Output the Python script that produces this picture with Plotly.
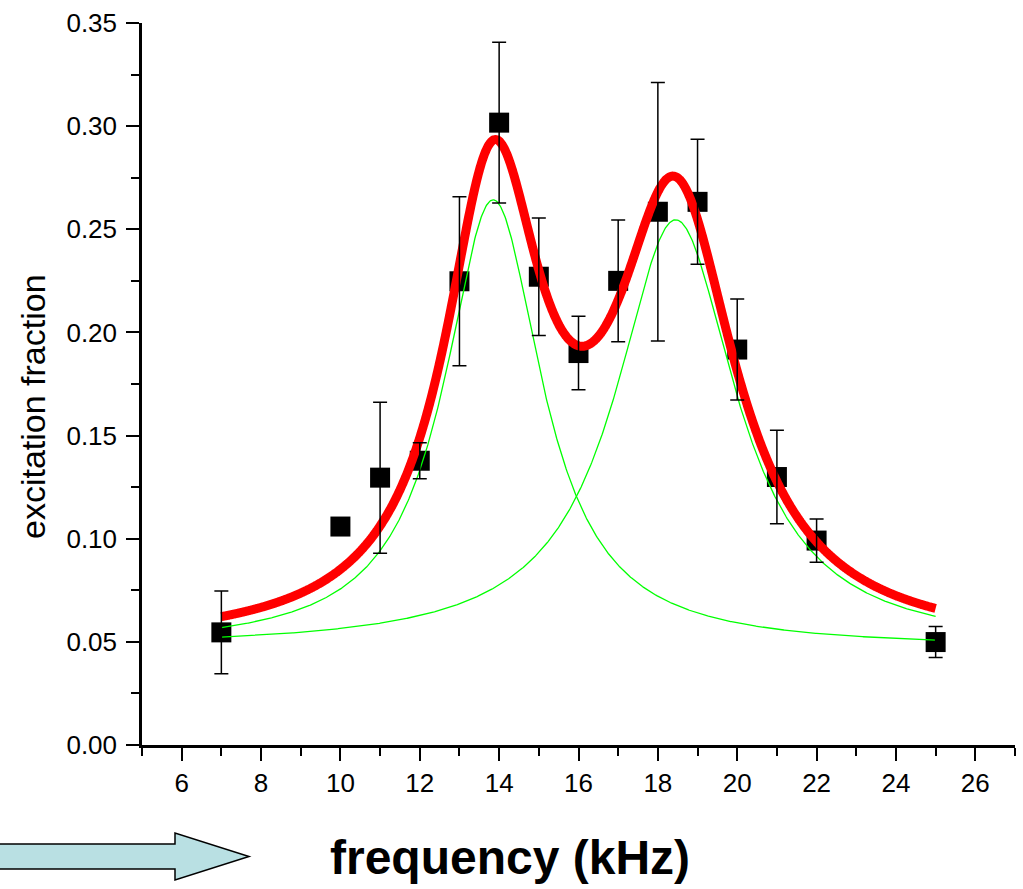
import numpy as np
import plotly.graph_objects as go

# ---- measured data ----
freq_khz = [7, 10, 11, 12, 13, 14, 15, 16, 17, 18, 19, 20, 21, 22, 25]
excitation = [0.0546, 0.1059, 0.1296, 0.1378, 0.2248, 0.3017, 0.2270, 0.1900,
              0.2250, 0.2585, 0.2633, 0.1917, 0.1299, 0.0991, 0.0499]
excitation_err = [0.0200, 0.0, 0.0366, 0.0087, 0.0410, 0.0390, 0.0285, 0.0178,
                  0.0295, 0.0627, 0.0303, 0.0245, 0.0227, 0.0105, 0.0075]

# ---- fit parameters (two Lorentzians on a common offset) ----
fit_offset = 0.047
fit_centers = [13.85, 18.45]
fit_halfwidths = [1.50, 1.85]
fit_heights = [0.2173, 0.2076]
fit_range = [7, 25]

x_tick_vals = [6, 8, 10, 12, 14, 16, 18, 20, 22, 24, 26]
y_tick_vals = [0.00, 0.05, 0.10, 0.15, 0.20, 0.25, 0.30, 0.35]

# ---- figure geometry (px) ----
W, H = 1023, 889
ML, MR, MT, MB = 142, 8, 23, 144
PW, PH = W - ML - MR, H - MT - MB


def px(x):
    return (x - ML) / PW


def py(y):
    return (H - MB - y) / PH


xf = np.linspace(fit_range[0], fit_range[1], 900)


def lor(x, c, g, h):
    return h * g ** 2 / ((x - c) ** 2 + g ** 2)


comp = [fit_offset + lor(xf, c, g, h) for c, g, h in zip(fit_centers, fit_halfwidths, fit_heights)]
total = fit_offset + sum(lor(xf, c, g, h) for c, g, h in zip(fit_centers, fit_halfwidths, fit_heights))

fig = go.Figure()

fig.add_trace(go.Scatter(
    x=freq_khz, y=excitation, mode="markers",
    marker=dict(symbol="square", size=20, color="black", line=dict(width=0)),
    showlegend=False, hoverinfo="skip"))

for cv in comp:
    fig.add_trace(go.Scatter(x=xf, y=cv, mode="lines",
                             line=dict(color="#00FF00", width=1.3),
                             showlegend=False, hoverinfo="skip"))

fig.add_trace(go.Scatter(x=xf, y=total, mode="lines",
                         line=dict(color="#FF0000", width=9, shape="spline"),
                         showlegend=False, hoverinfo="skip"))

fig.add_trace(go.Scatter(
    x=freq_khz, y=excitation, mode="markers",
    marker=dict(size=1, color="rgba(0,0,0,0)"),
    error_y=dict(type="data", array=excitation_err, visible=True,
                 color="black", thickness=1.5, width=7),
    showlegend=False, hoverinfo="skip"))

axis_font = dict(family="Liberation Sans, Arial", size=26, color="black")

fig.update_xaxes(
    range=[5, 27], showline=True, linecolor="black", linewidth=2.5,
    ticks="outside", ticklen=13, tickwidth=2, tickcolor="black",
    tickvals=x_tick_vals, ticktext=[str(v) for v in x_tick_vals],
    tickfont=axis_font, showgrid=False, zeroline=False,
    minor=dict(dtick=1, tick0=5, ticks="outside", ticklen=8, tickwidth=2,
               tickcolor="black", showgrid=False),
    ticklabelstandoff=0,
)
fig.update_yaxes(
    range=[0, 0.35], showline=True, linecolor="black", linewidth=2.5,
    ticks="outside", ticklen=13, tickwidth=2, tickcolor="black",
    tickvals=y_tick_vals, ticktext=["%.2f" % v for v in y_tick_vals],
    tickfont=axis_font, showgrid=False, zeroline=False,
    minor=dict(dtick=0.025, tick0=0, ticks="outside", ticklen=8, tickwidth=2,
               tickcolor="black", showgrid=False),
    ticklabelstandoff=4,
)

# arrow at lower left
arrow_pts = [(-5, 844), (175, 844), (175, 833), (249, 856.5), (175, 880), (175, 869), (-5, 869)]
path = "M " + " L ".join("%.5f,%.5f" % (px(a), py(b)) for a, b in arrow_pts) + " Z"
fig.add_shape(type="path", path=path, xref="paper", yref="paper",
              fillcolor="#B9E0E3", line=dict(color="black", width=1.5), layer="above")

fig.add_annotation(text="excitation fraction", textangle=-90, showarrow=False,
                   xref="paper", yref="paper", x=px(33), y=py(407),
                   xanchor="center", yanchor="middle",
                   font=dict(family="Liberation Sans, Arial", size=34, color="black"))
fig.add_annotation(text="<b>frequency (kHz)</b>", showarrow=False,
                   xref="paper", yref="paper", x=px(510), y=py(857),
                   xanchor="center", yanchor="middle",
                   font=dict(family="Liberation Sans, Arial", size=48, color="black"))

fig.update_layout(
    width=W, height=H,
    margin=dict(l=ML, r=MR, t=MT, b=MB, pad=0),
    paper_bgcolor="white", plot_bgcolor="white",
    showlegend=False,
)

fig.write_html("out.html")
